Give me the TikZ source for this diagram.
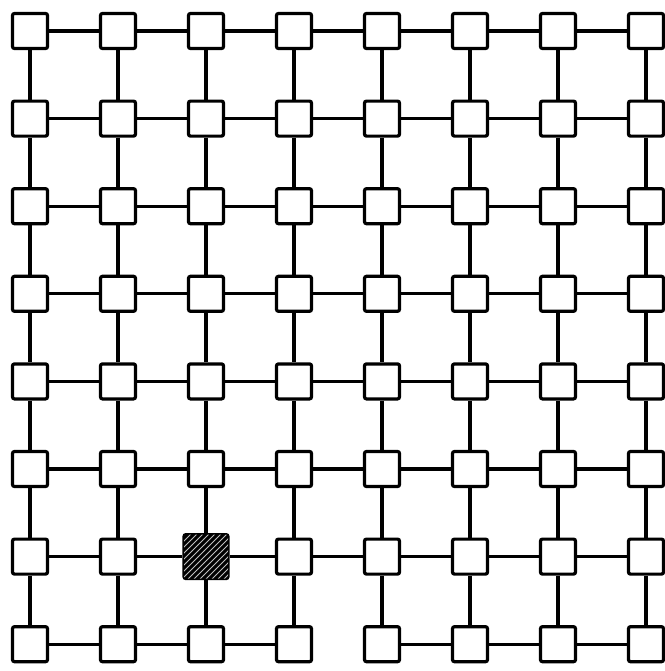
\documentclass[tikz,border=0pt]{standalone}
\usetikzlibrary{patterns}

\begin{document}
\begin{tikzpicture}[
  x=0.5pt, y=-0.5pt,
  cell/.style={rectangle, draw=black, line width=1.6pt, fill=white, minimum size=17.5pt, inner sep=0pt, rounded corners=1pt},
  hot cell/.style={cell, fill=black, minimum size=22pt, postaction={pattern=north east lines, pattern color=white!75!black}},
  wire/.style={line width=1.6pt, black}
]
  \useasboundingbox (0,0) rectangle (665,671);
  % 8x8 array of cells, the shaded one sits in row 7, column 3
  \foreach \r in {1,...,8}
    \foreach \c in {1,...,8} {
      \ifnum\r\c=73 \def\sty{hot cell}\else\def\sty{cell}\fi
      \node[\sty] (n\r\c) at ({30+88*(\c-1)}, {31+87.6*(\r-1)}) {};
    }
  % row links (bottom row is broken between columns 4 and 5)
  \foreach \r in {1,...,8}
    \foreach \c in {1,...,7} {
      \pgfmathtruncatemacro\cnext{\c+1}
      \pgfmathtruncatemacro\skiplink{(\r==8)&&(\c==4)}
      \ifnum\skiplink=0
        \draw[wire] (n\r\c) -- (n\r\cnext);
      \fi
    }
  % column links
  \foreach \r in {1,...,7}
    \foreach \c in {1,...,8} {
      \pgfmathtruncatemacro\rnext{\r+1}
      \draw[wire] (n\r\c) -- (n\rnext\c);
    }
\end{tikzpicture}
\end{document}
